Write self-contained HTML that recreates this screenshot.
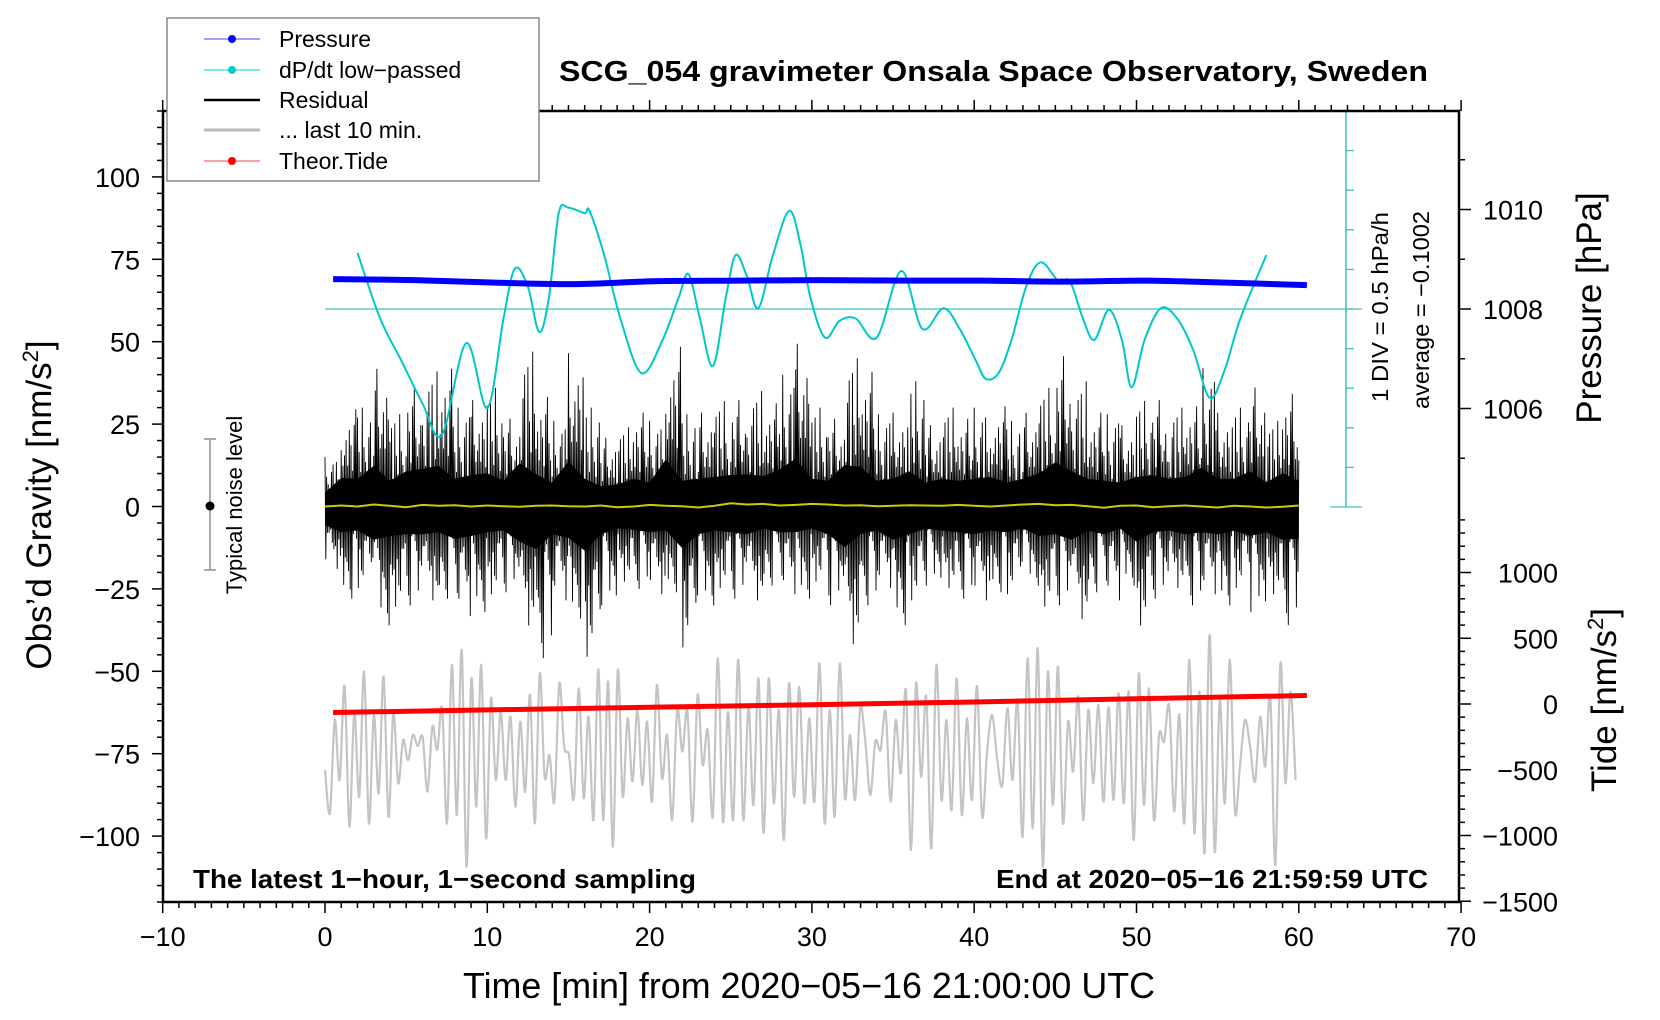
<!DOCTYPE html>
<html><head><meta charset="utf-8"><style>
html,body{margin:0;padding:0;background:#fff;}
svg{display:block;font-family:"Liberation Sans",sans-serif;}
</style></head><body>
<svg id="chart" width="1660" height="1020" viewBox="0 0 1660 1020" xmlns="http://www.w3.org/2000/svg">
<rect x="0" y="0" width="1660" height="1020" fill="#fff"/>
<g id="plot"></g>
<g id="axes"></g>
<text x="559" y="81" font-size="29" font-weight="bold" textLength="869" lengthAdjust="spacingAndGlyphs">SCG_054 gravimeter Onsala Space Observatory, Sweden</text>
<text x="193" y="888" font-size="26" font-weight="bold" textLength="503" lengthAdjust="spacingAndGlyphs">The latest 1−hour, 1−second sampling</text>
<text x="996" y="888" font-size="26" font-weight="bold" textLength="432" lengthAdjust="spacingAndGlyphs">End at 2020−05−16 21:59:59 UTC</text>
<text x="463" y="998" font-size="36" textLength="692" lengthAdjust="spacingAndGlyphs">Time [min] from 2020−05−16 21:00:00 UTC</text>
<text transform="translate(51,505) rotate(-90)" font-size="35" text-anchor="middle">Obs’d Gravity [nm/s<tspan font-size="22" dy="-13">2</tspan><tspan dy="13">]</tspan></text>
<text transform="translate(1601,308) rotate(-90)" font-size="35" text-anchor="middle">Pressure [hPa]</text>
<text transform="translate(1616,700) rotate(-90)" font-size="35" text-anchor="middle">Tide [nm/s<tspan font-size="22" dy="-13">2</tspan><tspan dy="13">]</tspan></text>
<text transform="translate(1388,307) rotate(-90)" font-size="23" text-anchor="middle" textLength="190" lengthAdjust="spacingAndGlyphs">1 DIV = 0.5 hPa/h</text>
<text transform="translate(1429,310) rotate(-90)" font-size="23" text-anchor="middle" textLength="198" lengthAdjust="spacingAndGlyphs">average = −0.1002</text>
<g>
<line x1="210" y1="439" x2="210" y2="570" stroke="#aaa" stroke-width="2"/>
<line x1="204" y1="439" x2="216" y2="439" stroke="#aaa" stroke-width="2"/>
<line x1="204" y1="570" x2="216" y2="570" stroke="#aaa" stroke-width="2"/>
<circle cx="210" cy="506" r="4.5" fill="#000"/>
<text transform="translate(242,505) rotate(-90)" font-size="22" text-anchor="middle">Typical noise level</text>
</g>
<g>
<rect x="167" y="18" width="372" height="163" fill="#fff" stroke="#888" stroke-width="1.5"/>
<g><line x1="204" y1="39" x2="260" y2="39" stroke="#4040ff" stroke-width="1"/><circle cx="232" cy="39" r="4" fill="#0000ff"/><text x="279" y="47" font-size="23">Pressure</text></g>
<g><line x1="204" y1="70" x2="260" y2="70" stroke="#00cccc" stroke-width="1"/><circle cx="232" cy="70" r="4" fill="#00cccc"/><text x="279" y="78" font-size="23">dP/dt low−passed</text></g>
<g><line x1="204" y1="100" x2="260" y2="100" stroke="#000" stroke-width="2.5"/><text x="279" y="108" font-size="23">Residual</text></g>
<g><line x1="204" y1="130" x2="260" y2="130" stroke="#bbb" stroke-width="3"/><text x="279" y="138" font-size="23">... last 10 min.</text></g>
<g><line x1="204" y1="161" x2="260" y2="161" stroke="#ff4040" stroke-width="1"/><circle cx="232" cy="161" r="4" fill="#ff0000"/><text x="279" y="169" font-size="23">Theor.Tide</text></g>
</g>
</svg>
<script>
// ---- data ----
const resHi=[15,31,30,44,28,38,41,44,30,34,36,28,47,35,26,49,30,22,24,30,26,51,28,30,32,34,35,33,40,52,30,28,45,43,28,30,38,26,30,28,30,32,26,30,36,48,38,30,28,26,32,34,30,32,42,30,30,38,26,36,28];
const resLo=[-20,-28,-26,-36,-32,-30,-30,-28,-35,-32,-28,-26,-38,-46,-30,-34,-48,-30,-24,-25,-28,-26,-45,-30,-26,-28,-30,-24,-28,-28,-24,-30,-44,-30,-26,-36,-30,-24,-26,-28,-30,-26,-28,-24,-32,-30,-36,-26,-30,-24,-38,-28,-26,-30,-28,-30,-26,-32,-28,-36,-35];
const smoothRes=[0,0.3,0,0.6,0.2,-0.2,0.5,0.2,0.4,0,0.3,0.1,-0.1,0.2,0.3,0.1,0,0.3,-0.2,0,0.5,0.2,0.1,-0.3,0.2,1.0,0.6,0.8,0.3,0.5,0.8,0.6,0.3,0.4,0.1,0.2,0.4,0.3,0.2,0.5,0.2,0,0.3,0.6,0.8,0.4,0.5,0.1,-0.4,0.2,0.3,-0.2,0.1,0.3,0,-0.3,0.2,0,-0.3,-0.1,0.3];
const dpTimes=[2.0,3.4,4.7,6.0,7.2,8.7,10.0,11.0,11.7,12.5,13.2,13.8,14.4,15.0,16.0,16.3,17.2,18.2,19.5,20.8,21.8,22.4,23.1,23.9,24.7,25.3,26.0,26.7,27.6,28.6,29.3,29.9,30.8,31.7,32.7,34.0,35.5,36.8,38.1,39.1,40.1,40.7,41.5,42.3,43.2,44.1,45.2,45.9,46.7,47.4,48.3,49.1,49.7,50.5,51.5,52.5,53.5,54.5,55.4,56.4,58.0];
const dpValues=[0.71,-0.12,-0.65,-1.19,-1.59,-0.43,-1.25,-0.12,0.51,0.28,-0.29,0.15,1.21,1.28,1.21,1.24,0.68,-0.12,-0.81,-0.39,0.15,0.44,-0.12,-0.72,0.15,0.68,0.41,0.01,0.68,1.24,0.81,0.15,-0.36,-0.15,-0.12,-0.36,0.48,-0.25,0.01,-0.25,-0.65,-0.88,-0.81,-0.39,0.28,0.59,0.35,0.35,-0.12,-0.39,-0.01,-0.39,-0.99,-0.39,0.01,-0.12,-0.52,-1.12,-0.79,-0.12,0.68];
const pressure=[1008.6,1008.58,1008.53,1008.5,1008.56,1008.57,1008.58,1008.57,1008.57,1008.55,1008.57,1008.53,1008.48];
const tideTimes=[0.5,10,20,30,40,50,60.5];
const tide=[-65,-45,-25,-5,15,40,65];
const graySegBounds=[0,20.45,40.8,59.8];
const gray1=[-502,-831,-122,-578,137,-933,-58,-705,246,-907,-84,-679,208,-857,-66,-603,-274,-426,-236,-319,-253,-667,-172,-350,-33,-907,297,-844,411,-1237,195,-781,297,-1021,43,-578,-58,-578,-96,-781,-134,-667,69,-907,233,-552,-388,-743,157,-324,-388,-717,119,-717,-96,-882,264,-882,170,-1085,259,-705,-109,-590,-45,-616,-134,-743,145];
const gray2=[-565,-236,-882,-45,-362,-58,-895,69,-464,-198,-857,348,-895,-58,-882,335,-882,-20,-768,195,-983,195,-755,-45,-1034,157,-705,132,-755,-109,-743,309,-907,-45,-857,309,-717,-236,-730,-33,-274,-692,-286,-350,-58,-743,-122,-527,107,-1110,157,-552,56,-1097,297,-730,-122,-806,195,-844,-109,-730,137,-857,-350];
const gray3=[-84,-426,-616,-33,-578,31,-1009,348,-945,424,-1237,246,-768,284,-907,-134,-514,56,-882,-45,-603,-7,-743,-25,-730,81,-755,94,-1034,233,-768,119,-882,-236,-286,-15,-819,-76,-907,335,-983,94,-1136,525,-1123,31,-755,335,-819,-476,-122,-324,-590,-96,-476,51,-1224,309,-603,94,-578];
const xTicks=[-10,0,10,20,30,40,50,60,70];
const yTicks=[-100,-75,-50,-25,0,25,50,75,100];
const pTicks=[1006,1008,1010];
const tTicks=[-1500,-1000,-500,0,500,1000];

// ---- scales ----
const X=t=>325+t*16.23;
const Yg=v=>506.5-v*3.296;
const Yp=p=>309-(p-1008)*49.75;
const Yd=d=>309-d*79.2;
const Yt=v=>704-v*0.1315;
const NS='http://www.w3.org/2000/svg';
const plot=document.getElementById('plot');
const axes=document.getElementById('axes');
function mk(tag,attrs,parent){const e=document.createElementNS(NS,tag);for(const k in attrs)e.setAttribute(k,attrs[k]);(parent||plot).appendChild(e);return e;}
function smooth(pts){let d='M'+pts[0][0].toFixed(1)+','+pts[0][1].toFixed(1);
 for(let i=0;i<pts.length-1;i++){const p0=pts[Math.max(0,i-1)],p1=pts[i],p2=pts[i+1],p3=pts[Math.min(pts.length-1,i+2)];
 const c1=[p1[0]+(p2[0]-p0[0])/6,p1[1]+(p2[1]-p0[1])/6],c2=[p2[0]-(p3[0]-p1[0])/6,p2[1]-(p3[1]-p1[1])/6];
 d+='C'+c1[0].toFixed(1)+','+c1[1].toFixed(1)+' '+c2[0].toFixed(1)+','+c2[1].toFixed(1)+' '+p2[0].toFixed(1)+','+p2[1].toFixed(1);}
 return d;}

// gray last-10-min curve
const segs=[gray1,gray2,gray3];
let gpts=[];
segs.forEach((arr,si)=>{const t0=graySegBounds[si],t1=graySegBounds[si+1];const n=arr.length;
 arr.forEach((v,i)=>{const t=si===0?t0+(t1-t0)*i/(n-1):t0+(t1-t0)*(i+1)/n;gpts.push([X(t),Yt(v)]);});});
const gray=mk('path',{d:smooth(gpts),fill:'none',stroke:'#c4c4c4','stroke-width':2.2});



// tide
let tp=tideTimes.map((t,i)=>X(t).toFixed(1)+','+Yt(tide[i]).toFixed(1)).join(' ');
const tl=mk('polyline',{points:tp,fill:'none',stroke:'#ff0000','stroke-width':5});



// residual: zigzag within per-minute envelope
const mult=[1,0.35,0.6,0.8,0.45,0.95,0.3,0.55,0.7,0.4,0.85,0.5,0.25,0.65,0.9,0.4,0.55,0.75,0.35,0.6];
let rp=[];
const N=mult.length;
resHi.forEach((h,i)=>{if(i>=60)return;const l=resLo[i];
 for(let k=0;k<N;k++){const t=i+k/N;const m=mult[(k+i*7)%N];
  rp.push([X(t),Yg(k%2===0?h*m:l*mult[(k*3+i)%N])]);}});
rp.push([X(60),Yg(resHi[60]*0.5)]);
const band=[];resHi.forEach((h,i)=>band.push([X(i),Yg(h*0.28)]));for(let i=resLo.length-1;i>=0;i--)band.push([X(i),Yg(resLo[i]*0.28)]);
const rb=mk('polygon',{points:band.map(p=>p[0].toFixed(1)+','+p[1].toFixed(1)).join(' '),fill:'#000'});


const rl=mk('polyline',{points:rp.map(p=>p[0].toFixed(1)+','+p[1].toFixed(1)).join(' '),fill:'none',stroke:'#000','stroke-width':0.9});



// smoothed residual (yellow)
const yl=mk('polyline',{points:smoothRes.map((v,i)=>X(i).toFixed(1)+','+Yg(v).toFixed(1)).join(' '),fill:'none',stroke:'#cccc00','stroke-width':2});



// dP/dt axis
const dg=mk('g',{});


mk('line',{x1:325,y1:Yd(0),x2:1362,y2:Yd(0),stroke:'#40c0c0','stroke-width':1.3},dg);
mk('line',{x1:1346,y1:Yd(2.5),x2:1346,y2:Yd(-2.5),stroke:'#40c0c0','stroke-width':1.5},dg);
for(let k=-5;k<=5;k++){const y=Yd(k*0.5);const w=(k===5||k===-5)?16:0;mk('line',{x1:1346-w,y1:y,x2:1354+(w?8:0),y2:y,stroke:'#40c0c0','stroke-width':1.3},dg);}

// dP/dt curve
const dl=mk('path',{d:smooth(dpTimes.map((t,i)=>[X(t),Yd(dpValues[i])])),fill:'none',stroke:'#00c8c8','stroke-width':2});



// pressure
const pl=mk('path',{d:smooth(pressure.map((p,i)=>[X(0.5+i*5),Yp(p)])),fill:'none',stroke:'#0000ff','stroke-width':6});



// ---- axes ----
const A={stroke:'#000','stroke-width':1.5};
mk('rect',{x:163,y:111,width:1296,height:791,fill:'none',stroke:'#000','stroke-width':2.5},axes);
for(let t=-10;t<=70;t++){const x=X(t);const L=(t%10===0)?11:6;
 mk('line',{x1:x,y1:902,x2:x,y2:902+L,...A},axes);mk('line',{x1:x,y1:111,x2:x,y2:111-L,...A},axes);}
xTicks.forEach(t=>{const e=mk('text',{x:X(t),y:946,'font-size':27,'text-anchor':'middle'},axes);e.textContent=String(t).replace('-','−');
 
 });
for(let v=-120;v<=120;v+=5){const y=Yg(v);const L=(v%25===0)?11:6;mk('line',{x1:163,y1:y,x2:163-L,y2:y,...A},axes);}
yTicks.forEach(v=>{const e=mk('text',{x:140,y:Yg(v)+10,'font-size':27,'text-anchor':'end'},axes);e.textContent=String(v).replace('-','−');
 
 });
for(let p=1005;p<=1011;p++){const y=Yp(p);const L=(p%2===0)?12:6;mk('line',{x1:1459,y1:y,x2:1459+L,y2:y,...A},axes);}
pTicks.forEach(p=>{const e=mk('text',{x:1483,y:Yp(p)+10,'font-size':27},axes);e.textContent=p;
 
 });
for(let v=-1500;v<=1400;v+=100){const y=Yt(v);const L=(v%500===0)?12:6;mk('line',{x1:1459,y1:y,x2:1459+L,y2:y,...A},axes);}
tTicks.forEach(v=>{const e=mk('text',{x:1558,y:Yt(v)+10,'font-size':27,'text-anchor':'end'},axes);e.textContent=String(v).replace('-','−');
 
 });
</script>
</body></html>
